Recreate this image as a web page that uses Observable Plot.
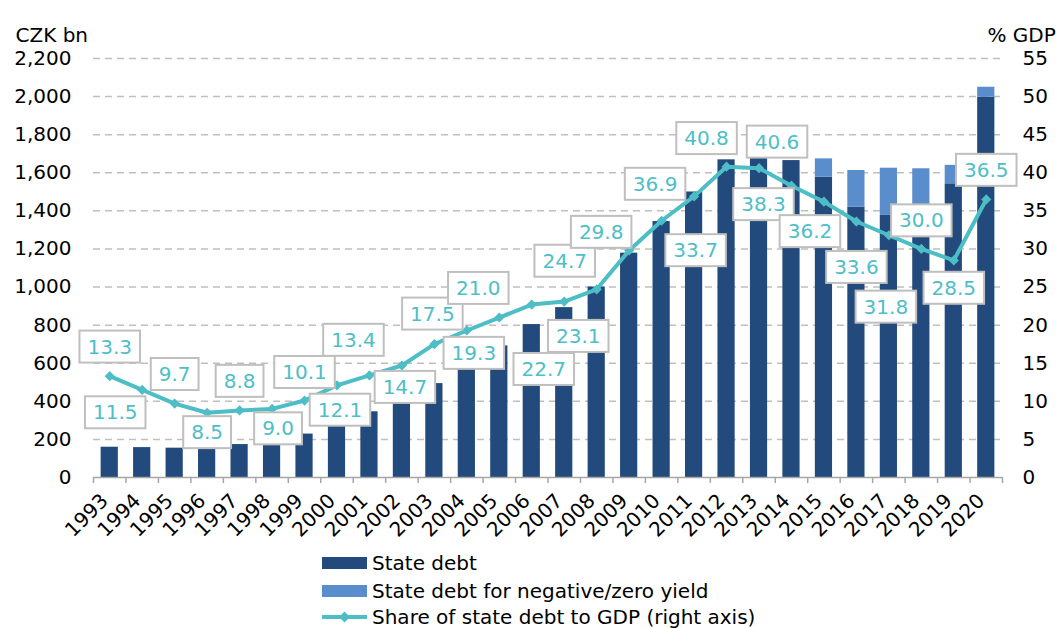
<!DOCTYPE html>
<html><head><meta charset="utf-8">
<script src="https://cdn.jsdelivr.net/npm/d3@7"></script>
<script src="https://cdn.jsdelivr.net/npm/@observablehq/plot@0.6"></script>
<style>
body{margin:0;background:#fff;font-family:"DejaVu Sans",Verdana,sans-serif;}
#chart{position:relative;width:1062px;height:628px;overflow:hidden;}
#legend{position:absolute;left:0;top:548px;width:1062px;height:80px;}
.lrow{position:absolute;left:322px;height:26px;display:flex;align-items:center;font-size:20px;line-height:22px;color:#000;white-space:nowrap;}
.sw{width:45px;height:12px;margin-right:5px;}
</style></head><body>
<div id="chart"><div id="legend"></div></div>
<script>
// ---- data ----
const years = [1993,1994,1995,1996,1997,1998,1999,2000,2001,2002,2003,2004,2005,2006,2007,2008,2009,2010,2011,2012,2013,2014,2015,2016,2017,2018,2019,2020];
const stateDebt = [159,157,154,155,173,195,228,289,345,396,493,593,691,803,892,1000,1178,1344,1499,1668,1683,1664,1577,1419,1376,1360,1542,1997];
const negYieldDebt = [0,0,0,0,0,0,0,0,0,0,0,0,0,0,0,0,0,0,0,0,0,0,96,193,248,261,97,52];
const gdpShare = [13.3,11.5,9.7,8.5,8.8,9.0,10.1,12.1,13.4,14.7,17.5,19.3,21.0,22.7,23.1,24.7,29.8,33.7,36.9,40.8,40.6,38.3,36.2,33.6,31.8,30.0,28.5,36.5];
const leftTicks = [0,200,400,600,800,1000,1200,1400,1600,1800,2000,2200];
const rightTicks = [0,5,10,15,20,25,30,35,40,45,50,55];
const seriesNames = ["State debt","State debt for negative/zero yield","Share of state debt to GDP (right axis)"];
const leftTitle = "CZK bn";
const rightTitle = "% GDP";
// label placement offsets (px) for the data labels
const labelDx = [0,-27,0,0,0,6,0,3,-16,3,-2,7,-21,12,14,-32,-28,34,-39,-20,18,-28,-14,0,-3,0,0,0];
const labelDy = [-29,23,-29,20,-29,20,-28,25,-35,22,-30,23,-29,65,35,-28,-18,30,-12,-28,-26,19,30,46,72,-28,28,-29];

// ---- layout / style ----
const W = 1062, H = 548, ML = 93, MR = 60, MT = 58, MB = 71;
const step = (W - ML - MR) / years.length;
const k = leftTicks[leftTicks.length-1] / rightTicks[rightTicks.length-1];
const DARK = "#234A7C", LIGHT = "#5A8DCB", TEAL = "#4DBDC6", LABELTEAL = "#4EBEC7", GRID = "#BFBFBF", AXIS = "#A6A6A6";
const FONT = "DejaVu Sans";

const bars = years.flatMap((y, i) => [
  {year: y, series: seriesNames[0], value: stateDebt[i]},
  {year: y, series: seriesNames[1], value: negYieldDebt[i]}
]);
const line = years.map((y, i) => ({year: y, share: gdpShare[i]}));

const labelMarks = line.map((d, i) => Plot.text([d], {
  x: "year", y: d => d.share * k, text: d => d.share.toFixed(1),
  dx: labelDx[i], dy: labelDy[i], fill: LABELTEAL, fontSize: 20
}));

const plot = Plot.plot({
  width: W, height: H, marginLeft: ML, marginRight: MR, marginTop: MT, marginBottom: MB,
  style: {fontFamily: FONT, fontSize: "20px", color: "#000", background: "#fff", overflow: "visible"},
  x: {type: "band", domain: years, paddingInner: 0.47, paddingOuter: 0.235, round: false, label: null},
  y: {domain: [0, 2200], label: null},
  color: {domain: seriesNames.slice(0, 2), range: [DARK, LIGHT]},
  marks: [
    Plot.ruleY(leftTicks.filter(d => d > 0), {stroke: GRID, strokeWidth: 1.5, strokeDasharray: "7,5"}),
    Plot.barY(bars, {x: "year", y: "value", fill: "series"}),
    Plot.ruleY([0], {stroke: AXIS, strokeWidth: 1.5}),
    Plot.ruleX(years, {x: d => d, y1: 0, y2: 0, insetBottom: -6, dx: -step / 2, stroke: AXIS, strokeWidth: 1.5}),
    Plot.ruleX(years.slice(-1), {x: d => d, y1: 0, y2: 0, insetBottom: -6, dx: step / 2, stroke: AXIS, strokeWidth: 1.5}),
    Plot.axisY({anchor: "left", ticks: leftTicks, tickSize: 0, tickPadding: 22, tickFormat: d3.format(","), label: null, fill: "#000"}),
    Plot.axisY({anchor: "right", ticks: rightTicks.map(v => v * k), tickSize: 0, tickPadding: 20, tickFormat: d => String(Math.round(d / k)), label: null, fill: "#000"}),
    Plot.axisX({tickRotate: -45, tickSize: 0, tickPadding: 20, dx: -5, tickFormat: d => String(d), label: null, fill: "#000"}),
    Plot.text([leftTitle], {frameAnchor: "top-left", dx: -78, dy: -31, textAnchor: "start", fontSize: 20, fill: "#000"}),
    Plot.text([rightTitle], {frameAnchor: "top-right", dx: -15, dy: -31, textAnchor: "start", fontSize: 20, fill: "#000"}),
    Plot.line(line, {x: "year", y: d => d.share * k, stroke: TEAL, strokeWidth: 4}),
    Plot.dot(line, {x: "year", y: d => d.share * k, symbol: "diamond2", r: 4.6, fill: TEAL, stroke: "none"}),
    ...labelMarks
  ]
});
const chart = document.getElementById("chart");
chart.insertBefore(plot, chart.firstChild);

// white boxes behind data labels
const ns = "http://www.w3.org/2000/svg";
plot.querySelectorAll("g").forEach(g => {
  if ((g.getAttribute("fill") || "").toLowerCase() !== LABELTEAL.toLowerCase()) return;
  g.querySelectorAll("text").forEach(t => {
    const b = t.getBBox();
    const r = document.createElementNS(ns, "rect");
    const px = 8, py = 4;
    r.setAttribute("x", b.x - px);
    r.setAttribute("y", b.y - py);
    r.setAttribute("width", b.width + 2 * px);
    r.setAttribute("height", b.height + 2 * py);
    r.setAttribute("fill", "#fff");
    r.setAttribute("stroke", GRID);
    r.setAttribute("stroke-width", 2);
    if (t.getAttribute("transform")) r.setAttribute("transform", t.getAttribute("transform"));
    t.parentNode.insertBefore(r, t);
  });
});

// legend
const legend = document.getElementById("legend");
const rows = [
  {name: seriesNames[0], sw: `<div class="sw" style="background:${DARK}"></div>`},
  {name: seriesNames[1], sw: `<div class="sw" style="background:${LIGHT}"></div>`},
  {name: seriesNames[2], sw: `<svg width="45" height="14" style="margin-right:5px"><line x1="0" x2="45" y1="7" y2="7" stroke="${TEAL}" stroke-width="4"/><path d="M22.5,1.5L28,7L22.5,12.5L17,7Z" fill="${TEAL}"/></svg>`}
];
const centers = [15, 43, 69];
rows.forEach((r, i) => {
  const d = document.createElement("div");
  d.className = "lrow";
  d.style.top = (centers[i] - 13) + "px";
  d.innerHTML = r.sw + `<span>${r.name}</span>`;
  legend.appendChild(d);
});
</script>
</body></html>
